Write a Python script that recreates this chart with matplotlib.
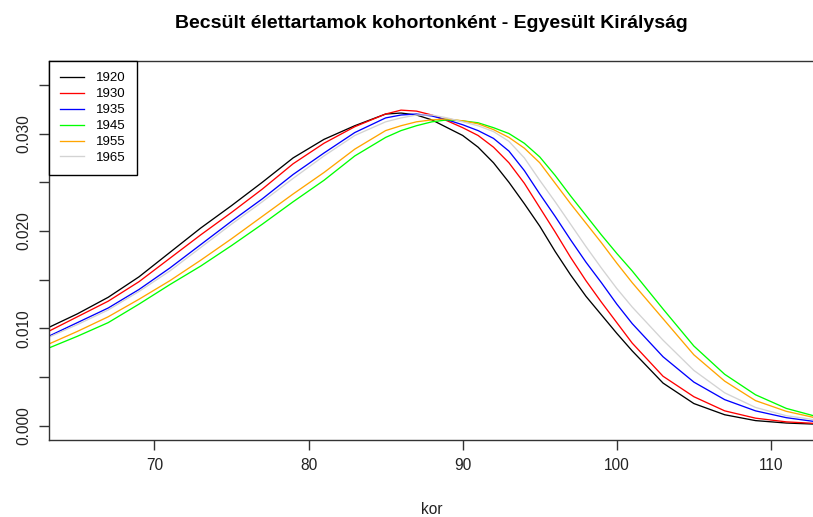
import numpy as np
from matplotlib import pyplot as plt

## Data section
# ages (years) at which the estimated densities are given
ages = [63, 65, 67, 69, 71, 73, 75, 77, 79, 81, 83, 85,
        86, 87, 88, 89, 90, 91, 92, 93, 94, 95, 96, 97, 98, 99, 100, 101,
        103, 105, 107, 109, 111, 113]

d1920 = [0.0100, 0.0115, 0.0132, 0.0153, 0.0178, 0.0203, 0.0226, 0.0250, 0.0275, 0.0294, 0.0308, 0.0320,
         0.0321, 0.0319, 0.0314, 0.0306, 0.0298, 0.0286, 0.0270, 0.0250, 0.0228, 0.0205, 0.0179, 0.0155,
         0.0133, 0.0114, 0.0095, 0.0077,
         0.0044, 0.0023, 0.00115, 0.00055, 0.0003, 0.00018]
d1930 = [0.0096, 0.0112, 0.0128, 0.0148, 0.0172, 0.0196, 0.0219, 0.0243, 0.0269, 0.0290, 0.0307, 0.0320,
         0.0324, 0.0323, 0.0319, 0.0313, 0.0306, 0.0298, 0.0286, 0.0270, 0.0249, 0.0224, 0.0199, 0.0173,
         0.0149, 0.0127, 0.0106, 0.0085,
         0.0051, 0.0030, 0.00155, 0.0008, 0.00042, 0.00025]
d1935 = [0.0091, 0.0106, 0.0121, 0.0140, 0.0162, 0.0186, 0.0210, 0.0233, 0.0258, 0.0280, 0.0301, 0.0316,
         0.0319, 0.0320, 0.0318, 0.0314, 0.0309, 0.0303, 0.0295, 0.0282, 0.0262, 0.0238, 0.0215, 0.0191,
         0.0168, 0.0147, 0.0125, 0.0105,
         0.0071, 0.0045, 0.0027, 0.00155, 0.00085, 0.00042]
d1945 = [0.0079, 0.0092, 0.0106, 0.0125, 0.0145, 0.0164, 0.0185, 0.0207, 0.0230, 0.0252, 0.0277, 0.0296,
         0.0303, 0.0308, 0.0312, 0.0314, 0.0313, 0.0311, 0.0306, 0.0300, 0.0290, 0.0276, 0.0257, 0.0236,
         0.0216, 0.0196, 0.0177, 0.0159,
         0.0120, 0.0082, 0.0053, 0.0032, 0.0018, 0.00095]
d1955 = [0.0083, 0.0097, 0.0112, 0.0130, 0.0149, 0.0170, 0.0192, 0.0215, 0.0238, 0.0260, 0.0284, 0.0303,
         0.0308, 0.0312, 0.0314, 0.0315, 0.0313, 0.0310, 0.0304, 0.0296, 0.0285, 0.0270, 0.0249, 0.0228,
         0.0208, 0.0188, 0.0167, 0.0147,
         0.0110, 0.0073, 0.0046, 0.0026, 0.0015, 0.0008]
d1965 = [0.0090, 0.0104, 0.0119, 0.0138, 0.0159, 0.0183, 0.0207, 0.0230, 0.0254, 0.0277, 0.0298, 0.0312,
         0.0316, 0.0319, 0.0319, 0.0316, 0.0312, 0.0308, 0.0302, 0.0292, 0.0275, 0.0252, 0.0230, 0.0207,
         0.0184, 0.0162, 0.0141, 0.0122,
         0.0088, 0.0057, 0.0034, 0.0019, 0.00105, 0.0006]

cohorts = ['1920', '1930', '1935', '1945', '1955', '1965']
series  = [d1920, d1930, d1935, d1945, d1955, d1965]
colors  = ['black', 'red', 'blue', '#00ff00', 'orange', 'lightgray']

title  = 'Becsült élettartamok kohortonként - Egyesült Királyság'
xlabel = 'kor'

## Config section
plt.rcParams['font.family'] = ['Liberation Sans', 'DejaVu Sans']
plt.rcParams['axes.linewidth'] = 1.0
plt.rcParams['axes.edgecolor'] = '#333333'

W, H = 813, 517
fig = plt.figure(figsize=(W / 100, H / 100), dpi=100)
ax = fig.add_axes([49 / W, (H - 440) / H, (814.7 - 49) / W, (440 - 61) / H])

## Plot section
for yr, vals, col in zip(cohorts, series, colors):
    ax.plot(ages, vals, color=col, linewidth=0.95, label=yr)

ax.set_xlim(63.16, 112.84)
ax.set_ylim(-0.00144, 0.03744)

ax.set_xticks([70, 80, 90, 100, 110])
ax.set_yticks(np.arange(0, 0.0351, 0.005))
ax.set_yticklabels(['0.000', '', '0.010', '', '0.020', '', '0.030', ''])
ax.tick_params(axis='both', direction='out', length=7, width=1.0,
               color='#333333', labelsize=11.2, labelcolor='#222222', pad=6)
for lab in ax.get_yticklabels():
    lab.set_rotation(90)
    lab.set_verticalalignment('center')

ax.set_title(title, fontsize=14, fontweight='bold', pad=24)
ax.set_xlabel(xlabel, fontsize=11.2, labelpad=21, color='#222222')

leg = ax.legend(loc='upper left', bbox_to_anchor=(0, 1), borderaxespad=0,
                fancybox=False, framealpha=1, edgecolor='black', fontsize=9.5,
                handlelength=1.8, handletextpad=0.9, labelspacing=0.28,
                borderpad=0.85)
leg.get_frame().set_linewidth(1.0)

plt.savefig('out.png', dpi=100)
plt.close()
